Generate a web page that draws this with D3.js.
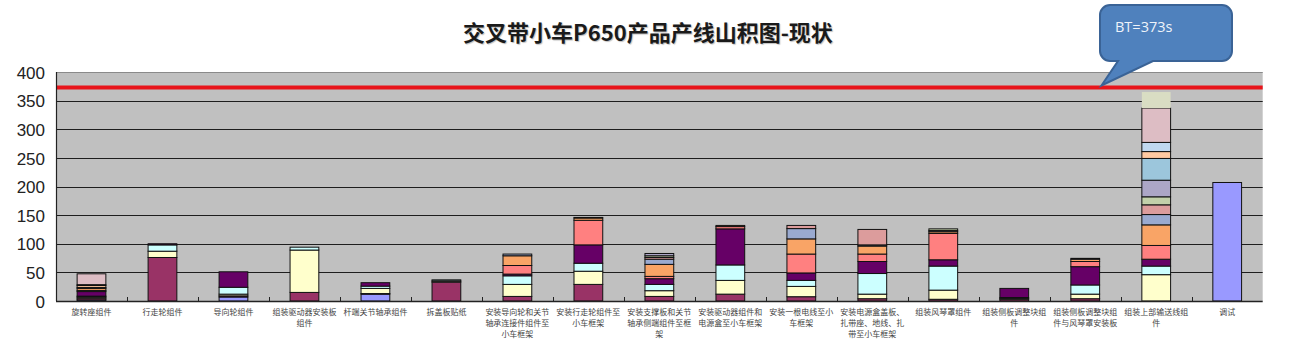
<!DOCTYPE html>
<html><head><meta charset="utf-8">
<script src="https://cdn.jsdelivr.net/npm/d3@7/dist/d3.min.js"></script>
<style>
html,body{margin:0;padding:0;background:#fff;}
svg{display:block;}
</style></head>
<body>
<svg id="chart" width="1308" height="356"></svg>
<script>
// ---------- DATA ----------
const title = "交叉带小车P650产品产线山积图-现状";
const categories = [
  "旋转座组件","行走轮组件","导向轮组件","组装驱动器安装板组件","杆端关节轴承组件","拆盖板贴纸",
  "安装导向轮和关节轴承连接件组件至小车框架","安装行走轮组件至小车框架","安装支撑板和关节轴承侧端组件至框架",
  "安装驱动器组件和电源盒至小车框架","安装一根电线至小车框架","安装电源盒盖板、扎带座、地线、扎带至小车框架",
  "组装风琴罩组件","组装侧板调整块组件","组装侧板调整块组件与风琴罩安装板","组装上部输送线组件","调试"
];
// step durations (s), stacked bottom -> top, one array per step series
const step01 = [2,   0, 7,  0, 12,  0,  0,  0,  0,  0, 0,    0,  0,  0,   0,   0, 207];
const step02 = [3,  76, 2, 15,  1, 33,  8, 29,  8, 12, 7.5,  4,  3,  3,   4,   0, 0];
const step03 = [2,  11, 3, 74,  9,  2, 21, 23, 10, 24, 18,   8, 16, 1.5, 8,  46, 0];
const step04 = [1.5,11,12,  5,  4,  2, 15, 14, 11, 27, 10.5,36, 42, 1.5, 16, 15, 0];
const step05 = [8,   2,27,  0,  6,  0,  3, 32, 10, 63, 13,  21, 11, 16,  32, 12, 0];
const step06 = [2,   0, 0,  0,  0,  0, 15, 43,  4,  4, 33,  13, 46,  0,   9, 24, 0];
const step07 = [3.5, 0, 0,  0,  0,  0, 17,  4, 21,  2, 26.5,14,  3,  0,   4, 36, 0];
const step08 = [1.5, 0, 0,  0,  0,  0,  3,  1,  9,  0, 18,   2,  2,  0, 1.5, 18, 0];
const step09 = [0,   0, 0,  0,  0,  0,  0,  0,  3,  0, 5.5, 27,  0,  0,   0, 17, 0];
const step10 = [0,   0, 0,  0,  0,  0,  0,  0,  3,  0, 0,    0,  3,  0,   0, 14, 0];
const step11 = [0,   0, 0,  0,  0,  0,  0,  0,  4,  0, 0,    0,  0,  0,   0, 29, 0];
const step12 = [0,   0, 0,  0,  0,  0,  0,  0,  0,  0, 0,    0,  0,  0,   0, 38, 0];
const step13 = [3.5, 0, 0,  0,  0,  0,  0,  0,  0,  0, 0,    0,  0,  0,   0, 12, 0];
const step14 = [1.5, 0, 0,  0,  0,  0,  0,  0,  0,  0, 0,    0,  0,  0,   0, 16, 0];
const step15 = [19,  0, 0,  0,  0,  0,  0,  0,  0,  0, 0,    0,  0,  0,   0, 60, 0];
const step16 = [0,   0, 0,  0,  0,  0,  0,  0,  0,  0, 0,    0,  0,  0,   0, 28, 0];
const yTicks = [0,50,100,150,200,250,300,350,400];
const btValue = 373;
const btLabel = "BT=373s";

// ---------- STYLE ----------
const steps = [step01,step02,step03,step04,step05,step06,step07,step08,step09,step10,step11,step12,step13,step14,step15,step16];
const palette = ["#9999FF","#993366","#FFFFCC","#CCFFFF","#660066","#FF8080","#F9A466","#9AAAD0",
                 "#DC9C9C","#C2D0AA","#ACA6C6","#9CC6DC","#FFC9A2","#C0D8F0","#DDBDC4","#D9DDC3"];

const svg = d3.select("#chart");
const pLeft = 56, pRight = 1262.7, pTop = 72, pBottom = 301;

const x = d3.scaleBand().domain(categories).range([pLeft, pRight]).padding(0);
const y = d3.scaleLinear().domain([0, 400]).range([pBottom, pTop]);

// table for stack
const keys = steps.map((_, i) => "s" + i);
const table = categories.map((c, ci) => {
  const row = {cat: c};
  steps.forEach((arr, si) => row["s" + si] = arr[ci]);
  return row;
});
const stacked = d3.stack().keys(keys)(table);

// plot background
svg.append("rect").attr("x", pLeft).attr("y", pTop).attr("width", pRight - pLeft).attr("height", pBottom - pTop)
  .attr("fill", "#C0C0C0");
svg.append("line").attr("x1", pLeft).attr("x2", pRight).attr("y1", pTop + 0.5).attr("y2", pTop + 0.5)
  .attr("stroke", "#8a8a8a").attr("stroke-width", 1);

// gridlines
svg.append("g").selectAll("line").data(yTicks.filter(d => d > 0 && d < 400)).join("line")
  .attr("x1", pLeft).attr("x2", pRight)
  .attr("y1", d => Math.round(y(d)) + 0.5).attr("y2", d => Math.round(y(d)) + 0.5)
  .attr("stroke", "#1e1e1e").attr("stroke-width", 1.2);

// bars
const barW = x.bandwidth() * 0.405;
const gBars = svg.append("g");
stacked.forEach((layer, si) => {
  gBars.append("g").selectAll("rect").data(layer.filter(d => d[1] - d[0] > 0)).join("rect")
    .attr("x", d => x(d.data.cat) + (x.bandwidth() - barW) / 2)
    .attr("width", barW)
    .attr("y", d => y(d[1]))
    .attr("height", d => y(d[0]) - y(d[1]))
    .attr("fill", palette[si])
    .attr("stroke", si === steps.length - 1 ? "none" : "#111")
    .attr("stroke-width", 1);
});

// BT line
svg.append("line").attr("x1", pLeft).attr("x2", pRight).attr("y1", y(btValue)).attr("y2", y(btValue))
  .attr("stroke", "#E8141A").attr("stroke-width", 4);

// axes lines
svg.append("line").attr("x1", pLeft + 0.5).attr("x2", pLeft + 0.5).attr("y1", pTop).attr("y2", pBottom)
  .attr("stroke", "#222").attr("stroke-width", 1.2);
svg.append("line").attr("x1", pLeft).attr("x2", pRight).attr("y1", pBottom + 0.5).attr("y2", pBottom + 0.5)
  .attr("stroke", "#222").attr("stroke-width", 1.5);
// category boundary ticks
svg.append("g").selectAll("line").data(categories.slice(1)).join("line")
  .attr("x1", d => Math.round(x(d)) + 0.5).attr("x2", d => Math.round(x(d)) + 0.5)
  .attr("y1", pBottom - 4).attr("y2", pBottom)
  .attr("stroke", "#222").attr("stroke-width", 1);

// y axis labels
const yAxis = d3.axisLeft(y).tickValues(yTicks).tickSize(0).tickPadding(0).tickFormat(d3.format("d"));
const gy = svg.append("g").attr("transform", `translate(${pLeft - 11},0)`).call(yAxis);
gy.select(".domain").remove();
gy.selectAll("text").attr("font-family", "'Liberation Sans', Arial, sans-serif")
  .attr("font-size", 17).attr("fill", "#222").attr("dy", "0.36em");

// x labels wrapped every 8 characters
const gx = svg.append("g");
categories.forEach(c => {
  const lines = [];
  for (let i = 0; i < c.length; i += 8) lines.push(c.slice(i, i + 8));
  const t = gx.append("text")
    .attr("x", x(c) + x.bandwidth() / 2)
    .attr("y", 315)
    .attr("text-anchor", "middle")
    .attr("font-family", "'Noto Sans CJK SC', sans-serif")
    .attr("font-size", 8)
    .attr("fill", "#444");
  lines.forEach((ln, i) => t.append("tspan").attr("x", x(c) + x.bandwidth() / 2).attr("dy", i === 0 ? 0 : 11).text(ln));
});

// title
svg.append("text").attr("x", 648).attr("y", 41).attr("text-anchor", "middle")
  .attr("font-family", "'Noto Sans CJK SC', sans-serif").attr("font-weight", "bold")
  .attr("font-size", 22).attr("fill", "#1a1a1a")
  .style("text-shadow", "1px 1px 1px rgba(0,0,0,0.25)")
  .text(title);

// callout
const cx0 = 1100, cx1 = 1232, cy0 = 5, cy1 = 61, r = 10;
const tipX = 1101.5, tipY = y(btValue) - 2;
const p = d3.path();
p.moveTo(cx0 + r, cy0);
p.lineTo(cx1 - r, cy0); p.arcTo(cx1, cy0, cx1, cy0 + r, r);
p.lineTo(cx1, cy1 - r); p.arcTo(cx1, cy1, cx1 - r, cy1, r);
p.lineTo(1153, cy1); p.lineTo(tipX, tipY); p.lineTo(1118, cy1);
p.lineTo(cx0 + r, cy1); p.arcTo(cx0, cy1, cx0, cy1 - r, r);
p.lineTo(cx0, cy0 + r); p.arcTo(cx0, cy0, cx0 + r, cy0, r);
p.closePath();
svg.append("path").attr("d", p.toString()).attr("fill", "#4F81BD").attr("stroke", "#3A6396").attr("stroke-width", 2);
svg.append("text").attr("x", 1115).attr("y", 32)
  .attr("font-family", "'Open Sans', 'Noto Sans', sans-serif").attr("font-size", 14.5)
  .attr("fill", "#EEF3FA").text(btLabel);
</script>
</body></html>
